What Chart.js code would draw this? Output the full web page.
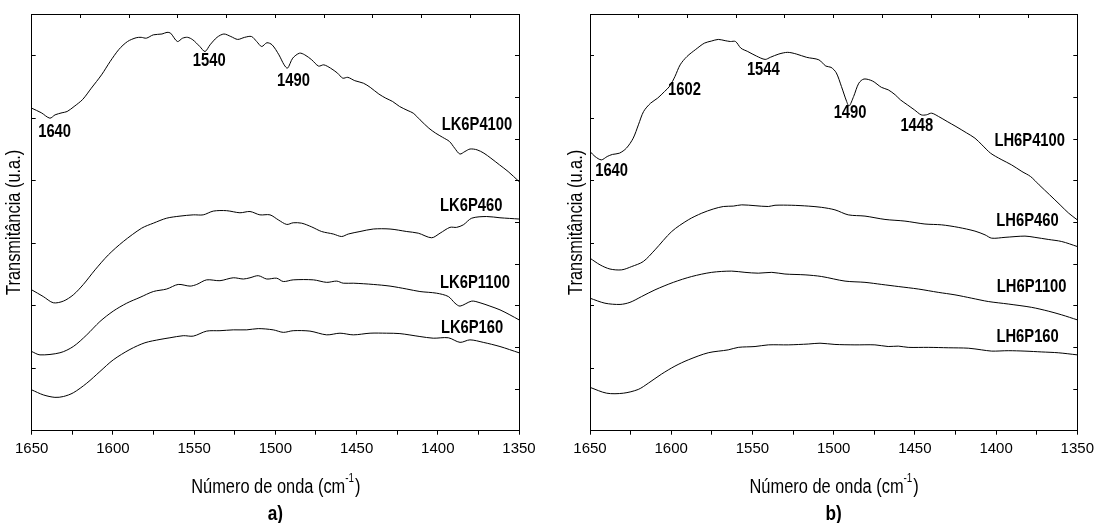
<!DOCTYPE html>
<html>
<head>
<meta charset="utf-8">
<script src="https://cdn.jsdelivr.net/npm/chart.js@4.4.0/dist/chart.umd.min.js"></script>
<style>
  html, body { margin: 0; padding: 0; background: #fff; }
  #wrap { position: relative; width: 1094px; height: 523px; }
  .panel { position: absolute; top: 0; width: 547px; height: 523px; }
</style>
</head>
<body>
<div id="wrap">
  <div class="panel" style="left:0"><canvas id="chartA" width="547" height="523"></canvas></div>
  <div class="panel" style="left:547px"><canvas id="chartB" width="547" height="523"></canvas></div>
</div>
<script>
// panel a) - LK6 samples
const waveA4100 = [1650, 1644.1, 1638.8, 1635.6, 1631.3, 1628.2, 1623.9, 1618.6, 1613.3, 1607.0, 1601.7, 1596.3, 1591.0, 1585.7, 1582.6, 1579.4, 1575.1, 1569.8, 1566.7, 1564.5, 1560.3, 1557.1, 1554.0, 1550.8, 1546.5, 1543.3, 1540.2, 1535.9, 1531.7, 1527.4, 1523.2, 1518.9, 1514.7, 1511.5, 1508.4, 1505.2, 1502.0, 1497.8, 1494.6, 1492.5, 1489.3, 1485.1, 1481.9, 1477.6, 1473.4, 1470.2, 1466.0, 1461.7, 1458.5, 1455.4, 1451.1, 1445.8, 1441.6, 1436.3, 1432.0, 1427.8, 1423.5, 1418.3, 1415.1, 1410.9, 1405.5, 1401.3, 1397.0, 1392.8, 1389.6, 1386.4, 1383.3, 1380.1, 1375.8, 1371.6, 1367.3, 1362.0, 1356.7, 1350];
const transA4100 = [77.4, 76.3, 75.0, 75.8, 76.3, 76.6, 77.8, 79.5, 82.2, 85.4, 88.6, 91.5, 93.4, 94.3, 94.4, 94.2, 95.0, 95.2, 95.6, 95.4, 93.4, 94.2, 94.4, 93.8, 92.2, 91.0, 92.6, 94.4, 95.2, 94.6, 93.9, 94.4, 94.6, 93.4, 92.2, 93.1, 92.6, 90.2, 87.8, 87.0, 89.4, 90.6, 90.2, 89.0, 87.5, 87.8, 87.0, 85.8, 84.6, 84.8, 84.0, 83.4, 82.4, 80.8, 79.8, 79.0, 77.8, 76.8, 76.2, 74.6, 72.6, 71.4, 70.4, 69.4, 67.8, 66.4, 67.0, 67.6, 67.4, 66.6, 65.4, 63.8, 62.2, 59.8];

const waveA460 = [1650, 1642.9, 1636.7, 1630.5, 1624.4, 1618.2, 1611.0, 1602.8, 1593.6, 1582.3, 1575.1, 1566.9, 1558.7, 1550.5, 1544.4, 1538.2, 1530.0, 1521.8, 1515.6, 1509.5, 1503.3, 1498.2, 1493.0, 1489.0, 1483.8, 1477.6, 1471.5, 1464.3, 1459.2, 1455.1, 1447.9, 1439.7, 1429.4, 1419.1, 1412.0, 1403.8, 1398.6, 1392.5, 1388.4, 1384.3, 1379.1, 1369.9, 1361.7, 1350];
const transA460 = [33.8, 32.2, 30.7, 31.1, 32.6, 35.1, 38.6, 42.2, 45.4, 48.6, 49.8, 51.0, 51.5, 51.8, 51.8, 52.7, 52.8, 52.3, 52.6, 51.8, 51.8, 50.6, 49.5, 49.9, 49.8, 48.9, 47.8, 47.2, 46.6, 47.2, 47.8, 48.4, 48.4, 47.8, 47.4, 46.3, 47.4, 48.8, 48.8, 49.4, 51.0, 51.4, 51.1, 50.8];

const waveA1100 = [1650, 1644.9, 1632.6, 1624.4, 1616.1, 1608.0, 1599.8, 1591.5, 1583.3, 1575.1, 1566.9, 1559.8, 1552.5, 1548.4, 1542.3, 1534.1, 1525.9, 1519.7, 1515.6, 1510.5, 1505.3, 1499.2, 1495.1, 1489.0, 1476.6, 1468.4, 1462.2, 1458.2, 1452.0, 1439.7, 1429.4, 1419.1, 1411.0, 1400.7, 1393.5, 1389.4, 1386.3, 1379.1, 1374.0, 1367.9, 1361.7, 1355.6, 1350];
const transA1100 = [19.0, 18.2, 18.7, 20.2, 23.0, 26.2, 28.7, 30.6, 32.0, 33.4, 34.0, 35.1, 34.7, 35.1, 36.2, 36.0, 36.7, 36.4, 36.7, 37.2, 36.4, 36.6, 35.8, 36.2, 36.2, 35.6, 35.9, 35.4, 35.4, 35.1, 34.7, 34.0, 33.4, 33.0, 32.2, 30.6, 29.9, 31.1, 30.7, 29.9, 29.0, 27.8, 26.6];

const waveA160 = [1650, 1642.9, 1635.7, 1630.5, 1624.4, 1616.1, 1608.0, 1599.8, 1589.5, 1580.3, 1571.0, 1564.9, 1556.7, 1550.5, 1542.3, 1534.1, 1525.9, 1517.6, 1510.5, 1501.3, 1495.1, 1489.0, 1478.7, 1468.4, 1460.2, 1452.0, 1441.7, 1431.5, 1423.3, 1411.0, 1402.8, 1393.5, 1386.3, 1380.2, 1372.0, 1361.7, 1350];
const transA160 = [9.8, 8.6, 8.0, 8.2, 9.1, 11.4, 14.2, 17.0, 19.5, 21.1, 21.9, 22.3, 22.8, 22.7, 23.9, 24.0, 24.2, 24.2, 24.5, 24.2, 23.6, 24.0, 23.9, 23.0, 23.4, 23.0, 23.4, 23.4, 23.3, 22.6, 22.2, 22.3, 21.2, 21.8, 21.2, 20.2, 18.7];

// panel b) - LH6 samples
const waveB4100 = [1650, 1646.9, 1643.0, 1639.4, 1636.2, 1631.9, 1627.6, 1623.4, 1620.2, 1617.0, 1612.7, 1608.4, 1604.1, 1600.9, 1597.7, 1594.5, 1590.3, 1584.9, 1579.6, 1575.3, 1571.0, 1566.8, 1563.6, 1560.4, 1557.1, 1552.9, 1547.5, 1542.2, 1539.0, 1533.7, 1528.3, 1523.0, 1516.6, 1509.1, 1504.8, 1501.6, 1498.4, 1495.2, 1492.0, 1490.5, 1487.7, 1484.5, 1481.3, 1476.0, 1470.6, 1466.4, 1462.1, 1458.9, 1454.6, 1450.3, 1446.1, 1442.9, 1439.7, 1435.4, 1430.1, 1424.7, 1418.3, 1413.0, 1408.7, 1403.4, 1396.9, 1390.5, 1384.1, 1378.8, 1373.5, 1367.0, 1360.6, 1355.3, 1350];
const transB4100 = [67.0, 65.8, 65.0, 65.8, 66.3, 66.6, 67.8, 70.2, 73.4, 76.6, 78.6, 79.8, 81.4, 82.7, 85.0, 87.8, 89.8, 91.5, 93.0, 93.5, 93.9, 93.6, 93.4, 93.4, 91.8, 91.0, 89.9, 89.1, 89.6, 90.4, 90.8, 90.4, 89.6, 89.0, 87.5, 87.2, 85.9, 82.6, 79.0, 77.9, 80.2, 83.4, 84.4, 83.9, 82.4, 81.8, 80.6, 79.4, 78.2, 77.0, 75.8, 75.8, 76.2, 75.4, 74.2, 73.0, 71.5, 70.2, 68.6, 66.6, 65.1, 63.8, 62.2, 61.0, 59.0, 56.6, 54.2, 52.2, 50.6];

const waveB460 = [1650, 1643.8, 1637.7, 1630.5, 1624.3, 1617.2, 1610.0, 1599.7, 1589.5, 1581.2, 1574.1, 1567.9, 1561.8, 1556.6, 1548.4, 1540.2, 1536.1, 1525.8, 1515.6, 1507.4, 1499.2, 1491.0, 1480.7, 1468.4, 1456.1, 1443.8, 1433.5, 1423.3, 1413.0, 1406.8, 1402.7, 1394.5, 1382.2, 1376.1, 1367.9, 1359.6, 1350];
const transB460 = [41.4, 39.8, 38.8, 38.6, 39.4, 40.6, 43.4, 47.8, 50.6, 52.2, 53.2, 53.8, 53.9, 54.2, 54.0, 53.8, 54.1, 54.1, 53.9, 53.6, 53.0, 51.8, 51.5, 50.7, 50.3, 49.6, 49.4, 48.8, 47.9, 47.0, 46.2, 46.4, 46.7, 46.4, 45.9, 45.4, 44.2];

const waveB1100 = [1650, 1640.8, 1631.5, 1625.4, 1618.2, 1610.0, 1598.7, 1587.4, 1575.1, 1562.8, 1554.6, 1546.4, 1538.1, 1530.0, 1517.6, 1507.4, 1493.0, 1480.7, 1470.4, 1460.2, 1447.9, 1435.6, 1425.3, 1415.0, 1404.8, 1392.5, 1378.1, 1367.9, 1359.6, 1350];
const transB1100 = [31.8, 30.6, 30.3, 30.8, 32.2, 33.8, 35.6, 37.0, 38.0, 38.3, 38.0, 37.8, 38.0, 37.6, 37.4, 37.0, 35.9, 35.6, 35.1, 34.6, 34.0, 33.2, 32.6, 31.8, 31.0, 30.4, 29.6, 28.7, 27.8, 26.6];

const waveB160 = [1650, 1639.7, 1629.5, 1620.3, 1614.1, 1605.9, 1597.7, 1589.5, 1577.2, 1564.9, 1558.7, 1548.4, 1540.2, 1527.9, 1515.6, 1508.4, 1499.2, 1486.9, 1474.6, 1466.4, 1460.2, 1454.1, 1441.7, 1429.4, 1417.1, 1408.9, 1402.7, 1392.5, 1382.2, 1371.9, 1361.7, 1350];
const transB160 = [10.4, 9.0, 9.0, 9.9, 11.4, 13.6, 15.5, 17.0, 18.7, 19.4, 20.0, 20.2, 20.6, 20.6, 20.8, 21.0, 20.7, 20.6, 20.6, 20.2, 20.3, 20.0, 20.0, 19.9, 19.8, 19.4, 19.1, 19.2, 19.1, 18.9, 18.7, 18.2];

// text annotations (band positions and sample names)
const labelsA = ['1640', '1540', '1490', 'LK6P4100', 'LK6P460', 'LK6P1100', 'LK6P160'];
const labelWaveA = [1635.9, 1540.7, 1488.8, 1375.9, 1379.4, 1377.1, 1378.9];
const labelTransA = [71.6, 88.6, 83.9, 73.4, 54.0, 35.4, 24.6];

const labelsB = ['1640', '1602', '1544', '1490', '1448', 'LH6P4100', 'LH6P460', 'LH6P1100', 'LH6P160'];
const labelWaveB = [1636.7, 1591.8, 1543.3, 1489.9, 1448.8, 1379.3, 1380.7, 1378.1, 1380.6];
const labelTransB = [62.2, 81.8, 86.6, 76.2, 73.0, 69.4, 50.4, 34.4, 22.5];

const FONT = '"Liberation Sans", Arial, sans-serif';
const SQUEEZE = 0.82;   // the original lettering is horizontally condensed

function pairs(xs, ys) {
    const out = [];
    for (let i = 0; i < Math.min(xs.length, ys.length); i++) out.push({x: xs[i], y: ys[i]});
    return out;
}

// narrow text: draw at (x, y) squeezed along the writing direction
function narrowText(ctx, text, x, y, rot) {
    ctx.save();
    ctx.translate(x, y);
    if (rot) ctx.rotate(rot);
    ctx.scale(SQUEEZE, 1);
    ctx.fillText(text, 0, 0);
    ctx.restore();
}

function textPlugin(texts, waves, trans, letter) {
    return {
        id: 'panelText',
        afterDraw(chart) {
            const ctx = chart.ctx;
            const xs = chart.scales.x, ys = chart.scales.y;
            const area = chart.chartArea;
            ctx.save();
            ctx.fillStyle = '#000';
            ctx.textAlign = 'center';
            ctx.textBaseline = 'middle';
            ctx.font = 'bold 18px ' + FONT;
            texts.forEach(function(t, i) {
                narrowText(ctx, t, xs.getPixelForValue(waves[i]), ys.getPixelForValue(trans[i]));
            });

            // y axis title
            ctx.font = '20px ' + FONT;
            narrowText(ctx, 'Transmitância (u.a.)', area.left - (chart.canvas.id === 'chartA' ? 17.7 : 14),
                (area.top + area.bottom) / 2, -Math.PI / 2);

            // x axis title with superscript
            const cx = (area.left + area.right) / 2;
            const ty = 487;
            const main = 'Número de onda (cm';
            const w1 = ctx.measureText(main).width * SQUEEZE;
            const w3 = ctx.measureText(')').width * SQUEEZE;
            ctx.font = '12px ' + FONT;
            const w2 = ctx.measureText('-1').width * SQUEEZE;
            const x0 = cx - (w1 + w2 + w3) / 2;
            ctx.textAlign = 'left';
            ctx.font = '20px ' + FONT;
            narrowText(ctx, main, x0, ty);
            ctx.font = '12px ' + FONT;
            narrowText(ctx, '-1', x0 + w1, ty - 8);
            ctx.font = '20px ' + FONT;
            narrowText(ctx, ')', x0 + w1 + w2 + 1, ty);

            ctx.textAlign = 'center';
            ctx.font = 'bold 21px ' + FONT;
            narrowText(ctx, letter, cx, 514);
            ctx.restore();
        }
    };
}

function makePanel(id, series, texts, waves, trans, letter, leftW, rightW) {
    const axisLine = {color: '#000', width: 1};
    new Chart(document.getElementById(id), {
        type: 'line',
        data: {
            datasets: series.map(function(s) {
                return {
                    data: pairs(s[0], s[1]),
                    xAxisID: 'x',
                    yAxisID: 'y',
                    borderColor: '#000',
                    borderWidth: 1,
                    pointRadius: 0,
                    tension: 0.3,
                    fill: false
                };
            })
        },
        options: {
            responsive: false,
            animation: false,
            layout: {padding: 0},
            plugins: {legend: {display: false}, tooltip: {enabled: false}},
            scales: {
                x: {
                    type: 'linear', position: 'bottom', min: 1350, max: 1650, reverse: true,
                    afterFit: function(scale) {
                        scale.height = 92.3;
                        scale.paddingLeft = 0;
                        scale.paddingRight = 0;
                    },
                    border: axisLine,
                    grid: {drawOnChartArea: false, color: '#000', tickLength: 4},
                    ticks: {
                        stepSize: 25, autoSkip: false, maxRotation: 0, padding: 5,
                        color: '#000', font: {family: FONT, size: 15},
                        callback: function(v) { return v % 50 === 0 ? String(v) : ''; }
                    }
                },
                x2: {
                    type: 'linear', position: 'top', min: 1350, max: 1650, reverse: true,
                    afterFit: function(scale) { scale.height = 14; },
                    border: axisLine,
                    grid: {drawOnChartArea: false, color: '#000', tickLength: -4},
                    ticks: {display: false, stepSize: 30}
                },
                y: {
                    type: 'linear', position: 'left', min: 0, max: 100,
                    afterFit: function(scale) { scale.width = leftW; },
                    border: axisLine,
                    grid: {drawOnChartArea: false, color: '#000', tickLength: -4},
                    ticks: {display: false, stepSize: 15}
                },
                y2: {
                    type: 'linear', position: 'right', min: 0, max: 100,
                    afterFit: function(scale) { scale.width = rightW; },
                    border: axisLine,
                    grid: {drawOnChartArea: false, color: '#000', tickLength: -4},
                    ticks: {display: false, stepSize: 10}
                }
            }
        },
        plugins: [textPlugin(texts, waves, trans, letter)]
    });
}

makePanel('chartA',
    [[waveA4100, transA4100], [waveA460, transA460], [waveA1100, transA1100], [waveA160, transA160]],
    labelsA, labelWaveA, labelTransA, 'a)', 31.7, 28);

makePanel('chartB',
    [[waveB4100, transB4100], [waveB460, transB460], [waveB1100, transB1100], [waveB160, transB160]],
    labelsB, labelWaveB, labelTransB, 'b)', 43, 16.7);
</script>
</body>
</html>
